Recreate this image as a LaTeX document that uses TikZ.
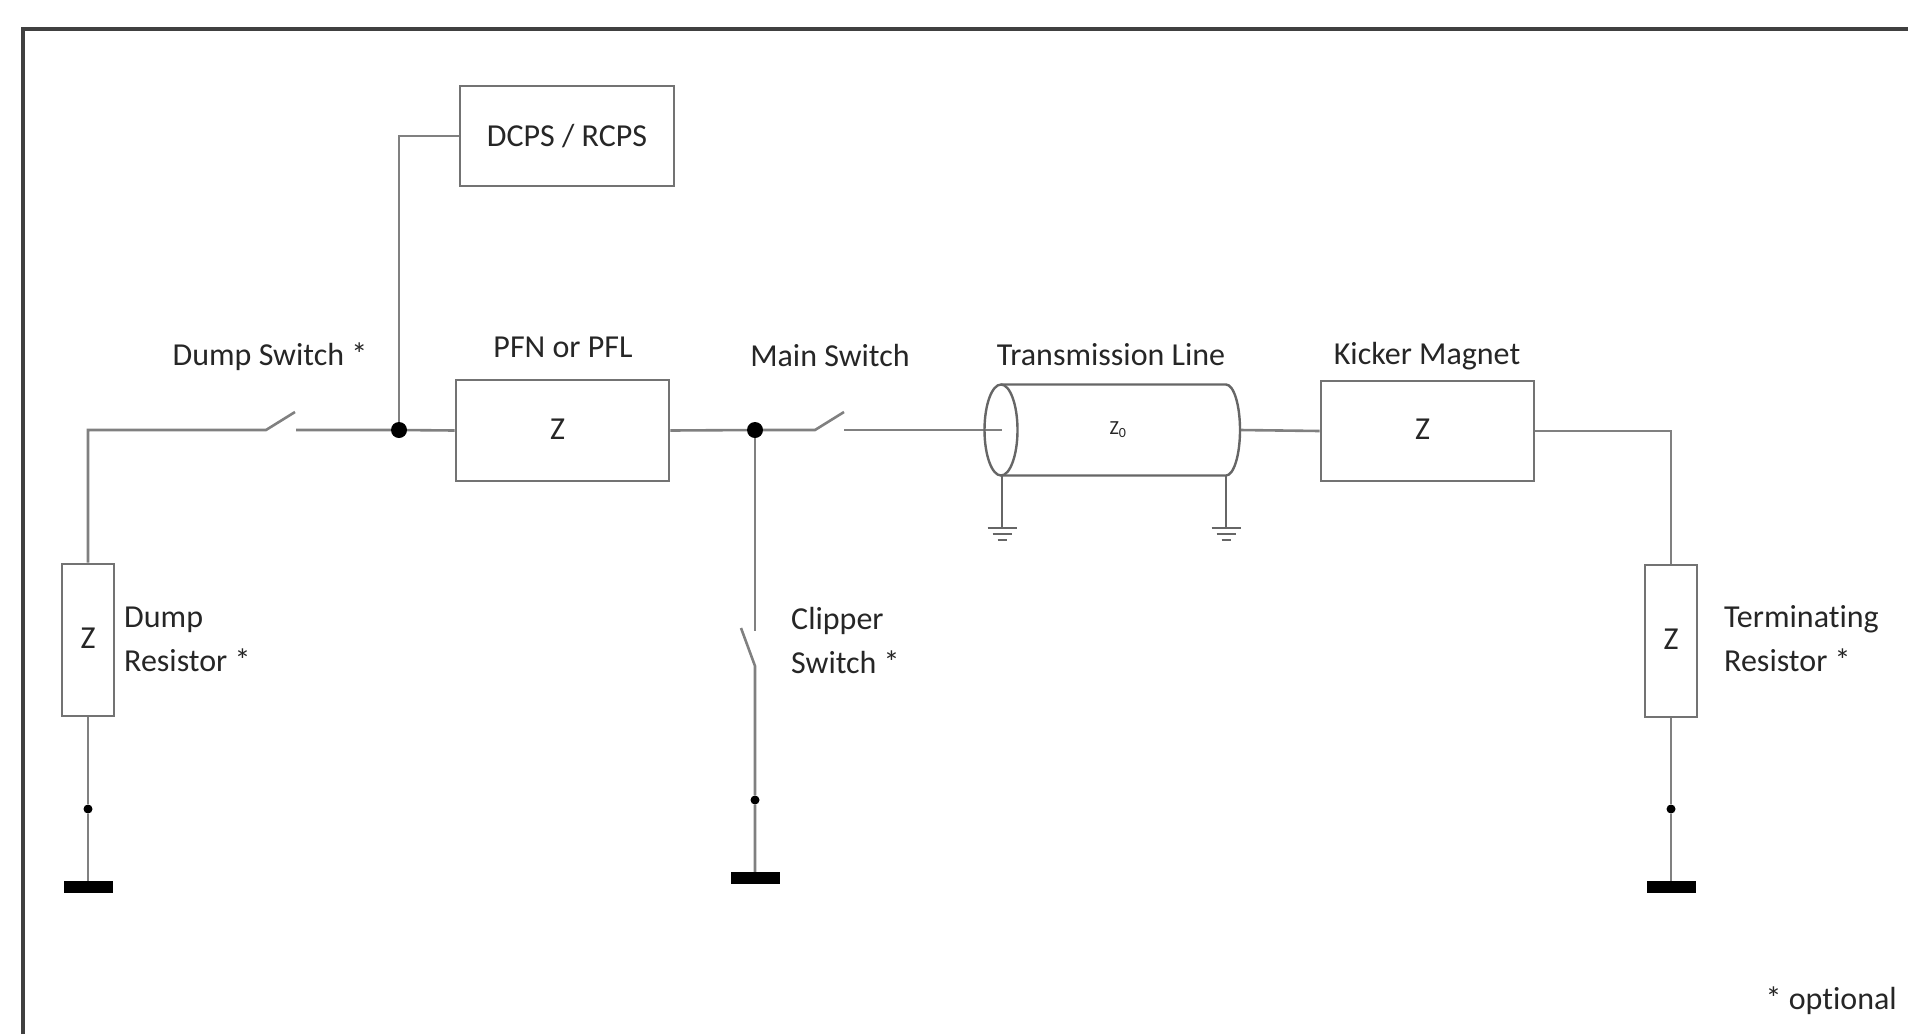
\documentclass[tikz,border=0pt]{standalone}
\usepackage{fontspec}
\setmainfont[Ligatures=NoCommon]{Carlito}
\begin{document}
\begin{tikzpicture}[x=1pt,y=-1pt,
  wire/.style={draw=black!50, line width=2.6pt},
  frame/.style={draw=black!75, line width=3.2pt},
  box/.style={draw=black!55, line width=2.6pt, fill=white, inner sep=0pt, font=\fontsize{32}{38}\selectfont, text=black!85},
  lbl/.style={font=\fontsize{32}{44}\selectfont, text=black!85, inner sep=0pt},
  bigdot/.style={circle, fill=black, inner sep=0pt, minimum size=16pt},
  smalldot/.style={circle, fill=black, inner sep=0pt, minimum size=9pt},
  gbar/.style={rectangle, fill=black, inner sep=0pt, minimum width=49pt, minimum height=12pt},
  gline/.style={draw=black!60, line width=2.4pt}]
\useasboundingbox (0,0) rectangle (1908,1034);
\draw[frame] (23,1034) -- (23,29) -- (1908,29);

% boxes
\node[box, minimum width=214pt, minimum height=100pt] (dcps) at (567,136) {DCPS / RCPS};
\node[box, minimum width=213pt, minimum height=101pt] (pfn) at (562.5,430.5) {\raisebox{3pt}{Z}\hspace*{10pt}};
\node[box, minimum width=213pt, minimum height=100pt] (kick) at (1427.5,431) {\raisebox{3pt}{Z}\hspace*{10pt}};
\node[box, minimum width=52pt, minimum height=152pt] (dumpR) at (88,640) {\raisebox{3pt}{Z}};
\node[box, minimum width=52pt, minimum height=152pt] (termR) at (1671,641) {\raisebox{3pt}{Z}};

% junctions and dots
\node[bigdot] (j1) at (399,430) {};
\node[bigdot] (j2) at (755,430) {};
\node[smalldot] (d1) at (88,809) {};
\node[smalldot] (d3) at (755,800) {};
\node[smalldot] (d4) at (1671,809) {};
\node[gbar] (g1) at (88,887) {};
\node[gbar] (g3) at (755,878) {};
\node[gbar] (g4) at (1671,887) {};

% switch coordinates
\coordinate (s1a) at (266,430);
\coordinate (s1b) at (295,412);
\coordinate (s1c) at (296,430);
\coordinate (s2a) at (815,430);
\coordinate (s2b) at (844,412);
\coordinate (s2c) at (844,430);
\coordinate (s3a) at (755,631);
\coordinate (s3b) at (741,628);
\coordinate (s3c) at (755,666);
\coordinate (tlL) at (1002,430);
\coordinate (tlR) at (1240,430);

% wires
\draw[wire] (dumpR.north) |- (s1a) -- (s1b);
\draw[wire] (s1c) -- (j1) -- (pfn.west);
\draw[wire] (j1) |- (dcps.west);
\draw[wire] (pfn.east) -- (j2) -- (s2a) -- (s2b);
\draw[wire] (s2c) -- (tlL);
\draw[wire] (j2) -- (s3a);
\draw[wire] (s3b) -- (s3c) -- (d3) -- (g3.north);
\draw[wire] (dumpR.south) -- (d1) -- (g1.north);
\draw[wire] (tlR) -- (kick.west);
\draw[wire] (kick.east) -| (termR.north);
\draw[wire] (termR.south) -- (d4) -- (g4.north);

% transmission line
\draw[gline] (1001,430) ellipse [x radius=16.5, y radius=45.5];
\draw[gline] (1001,384.5) -- (1226,384.5) arc[start angle=-90, end angle=90, x radius=14, y radius=45.5] -- (1001,475.5);
\draw[gline] (1002,475.5) -- (1002,528);
\draw[gline] (1226,475.5) -- (1226,528);
\foreach \cx in {1002,1226}{
  \draw[gline] (\cx-14.5,528) -- (\cx+14.5,528);
  \draw[gline] (\cx-9.5,534) -- (\cx+9.5,534);
  \draw[gline] (\cx-4.5,540) -- (\cx+4.5,540);
}
\node[text=black!85, font=\fontsize{20}{24}\selectfont, inner sep=0pt] (z0) at (1118,430) {Z\textsubscript{0}};

% labels
\node[lbl] (lds) at (270,357) {Dump Switch *};
\node[lbl] (lpfn) at (563,347) {PFN or PFL};
\node[lbl] (lms) at (830,355) {Main Switch};
\node[lbl] (ltl) at (1111,355) {Transmission Line};
\node[lbl] (lkm) at (1427,356) {Kicker Magnet};
\node[lbl, anchor=west, align=left] (ldr) at (124,639) {Dump\\Resistor *};
\node[lbl, anchor=west, align=left] (lcs) at (791,640) {Clipper\\Switch *};
\node[lbl, anchor=west, align=left] (ltr) at (1724,639) {Terminat\kern0pt ing\\Resistor *};
\node[lbl, anchor=east] (lopt) at (1897,1001) {* optional};
\end{tikzpicture}
\end{document}
